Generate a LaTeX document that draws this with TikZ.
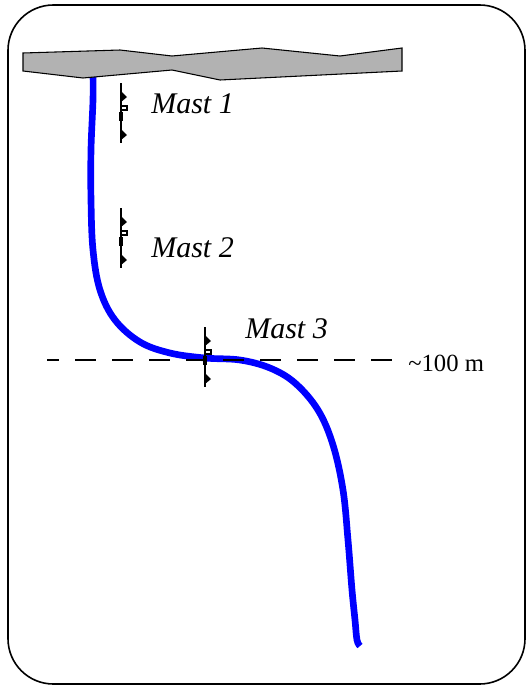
\documentclass[tikz,border=0pt]{standalone}
\usepackage{fontspec}
\setmainfont{Liberation Serif}
\usetikzlibrary{positioning}
\tikzset{
  shelf/.style={draw, line width=0.8pt, fill=black!30},
  cable/.style={blue, line width=5pt},
  level/.style={line width=1.5pt, dash pattern=on 15.75pt off 12pt, dash phase=6.75pt},
  lbl/.style={font=\fontsize{22.5}{26}\selectfont\itshape, inner sep=0pt, anchor=base west},
  mastpole/.pic={
    \draw[line width=2pt] (0,0) -- (0,60);
    \fill (0,8) -- (6,14) -- (0,19) -- cycle;
    \draw[line width=1pt] (0,23) rectangle (6,27);
    \fill (-2,29) rectangle (2,38);
    \fill (0,46) -- (6,52) -- (0,57) -- cycle;
  }
}

\begin{document}
\begin{tikzpicture}[x=0.75pt, y=-0.75pt]
  \useasboundingbox (0,0) rectangle (528,686);
  \draw[line width=1.2pt, rounded corners=34pt] (8,5) rectangle (525,684);

  % cable from the shelf down
  \draw[cable] plot[smooth, tension=0.6] coordinates {(93,75) (93,100) (91,150) (91,200) (93,250) (100,290) (115,320) (140,342) (170,353) (205,358) (240,360) (270,368) (295,383) (318,410) (333,445) (343,490) (348,540) (352,590) (355,620) (357,640) (360,646)};

  \draw[shelf] (23,53) -- (120,50) -- (172,56) -- (262,48) -- (340,56) -- (402,48) -- (402,71) -- (220,80) -- (172,70) -- (83,78) -- (23,71) -- cycle;

  \coordinate (ll) at (47,360);
  \coordinate (lr) at (395,360);
  \draw[level] (ll) -- (lr);

  \pic at (121,83) {mastpole};
  \pic at (121,208) {mastpole};
  \pic at (205,327) {mastpole};

  \node[lbl] (m1) at (151,113) {Mast 1};
  \node[lbl] (m2) at (151,257) {Mast 2};
  \node[lbl] (m3) at (245,338) {Mast 3};
  \node[font=\fontsize{18.5}{22}\selectfont, inner sep=0pt, anchor=base west] (depth) at (408,371) {\textasciitilde 100 m};
\end{tikzpicture}
\end{document}
